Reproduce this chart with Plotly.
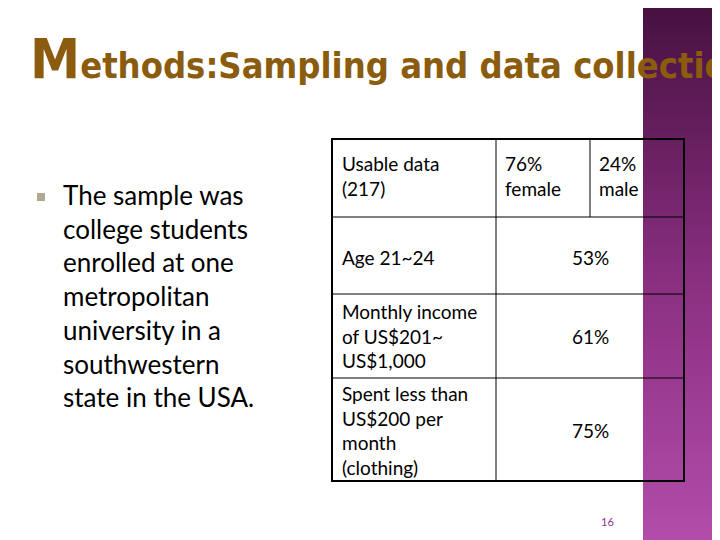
import plotly.graph_objects as go

title_big = "M"
title_rest = "ethods:Sampling and data collection"
bullet_lines = ["The sample was", "college students", "enrolled at one", "metropolitan",
                "university in a", "southwestern", "state in the USA."]
row_labels = ["Usable data<br>(217)", "Age 21~24", "Monthly income<br>of US$201~<br>US$1,000",
              "Spent less than<br>US$200 per<br>month<br>(clothing)"]
gender_vals = ["76%<br>female", "24%<br>male"]
row_vals = ["53%", "61%", "75%"]
page_no = "16"

FONT = "Comic Sans MS, Lato, sans-serif"
fig = go.Figure()

# purple side band
fig.add_trace(go.Scatter(
    x=[643, 740, 740, 643, 643], y=[0, 0, 560, 560, 0], mode="lines",
    line=dict(width=0), fill="toself", hoverinfo="skip", showlegend=False,
    fillgradient=dict(type="vertical", colorscale=[[0, "#b54fae"], [0.5, "#8a2f80"], [1, "#45103f"]])))

# table grid
L, R, T, B = 332, 684, 139, 481
col = 496
sub = 590
rows = [T, 217, 294, 378, B]
shapes = [dict(type="rect", x0=L, x1=R, y0=T, y1=B, line=dict(color="black", width=2))]
for y in rows[1:-1]:
    shapes.append(dict(type="line", x0=L, x1=R, y0=y, y1=y, line=dict(color="black", width=1)))
shapes.append(dict(type="line", x0=col, x1=col, y0=T, y1=B, line=dict(color="black", width=1)))
shapes.append(dict(type="line", x0=sub, x1=sub, y0=T, y1=rows[1], line=dict(color="black", width=1)))
# bullet
shapes.append(dict(type="rect", x0=37, x1=45, y0=193, y1=201, fillcolor="#b0a890", line=dict(width=0)))

ann = []
ann.append(dict(x=28, y=58, xanchor="left", yanchor="middle",
                text=f"<span style='font-size:56px'>{title_big}</span><span style='font-size:36px'>{title_rest}</span>",
                font=dict(family="DejaVu Sans Condensed, sans-serif", color="#8b5c0e", weight="bold"), showarrow=False))
for i, t in enumerate(bullet_lines):
    ann.append(dict(x=61, y=195 + i * 33.7, xanchor="left", yanchor="middle", text=t,
                    font=dict(family=FONT, size=26, color="black"), showarrow=False))
label_y = [176, 257, 336, 430]
for t, y in zip(row_labels, label_y):
    ann.append(dict(x=340, y=y, xanchor="left", yanchor="middle", text=t, align="left",
                    font=dict(family=FONT, size=19, color="black"), showarrow=False))
ann.append(dict(x=503, y=176, xanchor="left", yanchor="middle", text=gender_vals[0], align="left",
                font=dict(family=FONT, size=19, color="black"), showarrow=False))
ann.append(dict(x=597, y=176, xanchor="left", yanchor="middle", text=gender_vals[1], align="left",
                font=dict(family=FONT, size=19, color="black"), showarrow=False))
for t, y in zip(row_vals, label_y[1:]):
    ann.append(dict(x=590, y=y, xanchor="center", yanchor="middle", text=t,
                    font=dict(family=FONT, size=19, color="black"), showarrow=False))
ann.append(dict(x=607, y=521, xanchor="center", yanchor="middle", text=page_no,
                font=dict(family=FONT, size=11, color="#8a3a8a"), showarrow=False))

fig.update_layout(
    width=720, height=540, margin=dict(l=0, r=0, t=0, b=0),
    paper_bgcolor="white", plot_bgcolor="white",
    xaxis=dict(range=[8, 728], visible=False, fixedrange=True),
    yaxis=dict(range=[548, 8], visible=False, fixedrange=True),
    shapes=shapes, annotations=ann, showlegend=False)
fig.write_html("out.html")
